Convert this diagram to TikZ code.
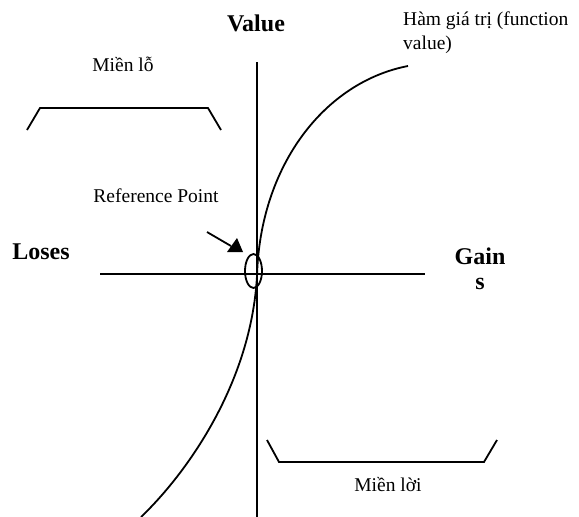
\documentclass[tikz,border=0pt]{standalone}
\usepackage{fontspec}
\setmainfont{Liberation Serif}
\usetikzlibrary{shapes.geometric}
\begin{document}
\begin{tikzpicture}[x=1pt,y=-1pt,
  lbl/.style={font=\fontsize{19.5}{23}\selectfont, inner sep=0pt},
  blbl/.style={font=\fontsize{24}{28}\selectfont\bfseries, inner sep=0pt},
  ln/.style={line width=1.8pt}]
\useasboundingbox (0,0) rectangle (579,517);
% axes
\coordinate (vt) at (257,62);
\coordinate (vb) at (257,517);
\coordinate (hl) at (100,274);
\coordinate (hr) at (425,274);
\draw[ln] (vt) -- (vb);
\draw[ln] (hl) -- (hr);
% value function
\coordinate (cs) at (141,517);
\coordinate (co) at (257,276);
\coordinate (ce) at (408,66);
\draw[ln] (cs) .. controls (185,475) and (251,385) .. (co)
          .. controls (260,165) and (325,82) .. (ce);
% reference ellipse
\node[ln, draw, ellipse, minimum width=17pt, minimum height=34pt, inner sep=0pt] (ref) at (253.5,271) {};
% arrow
\coordinate (a0) at (207,232);
\coordinate (a1) at (231,246);
\draw[ln] (a0) -- (a1);
\fill (227,252) -- (237,238) -- (243,252) -- cycle;
% brackets
\draw[ln] (27,130) -- (40,108) -- (208,108) -- (221,130);
\draw[ln] (267,440) -- (279,462) -- (484,462) -- (497,440);
% labels
\node[blbl] (value) at (256,23) {Value};
\node[lbl, anchor=west] (ham1) at (403,21) {Hàm giá trị (function};
\node[lbl, anchor=west] (ham2) at (403,45) {value)};
\node[lbl] (mlo) at (123,64) {Miền lỗ};
\node[lbl] (refp) at (156,196) {Reference Point};
\node[blbl] (loses) at (41,252) {Loses};
\node[blbl] (gain) at (480,256) {Gain};
\node[blbl] (gs) at (480,284) {s};
\node[lbl] (mloi) at (388,485) {Miền lời};
\end{tikzpicture}
\end{document}
